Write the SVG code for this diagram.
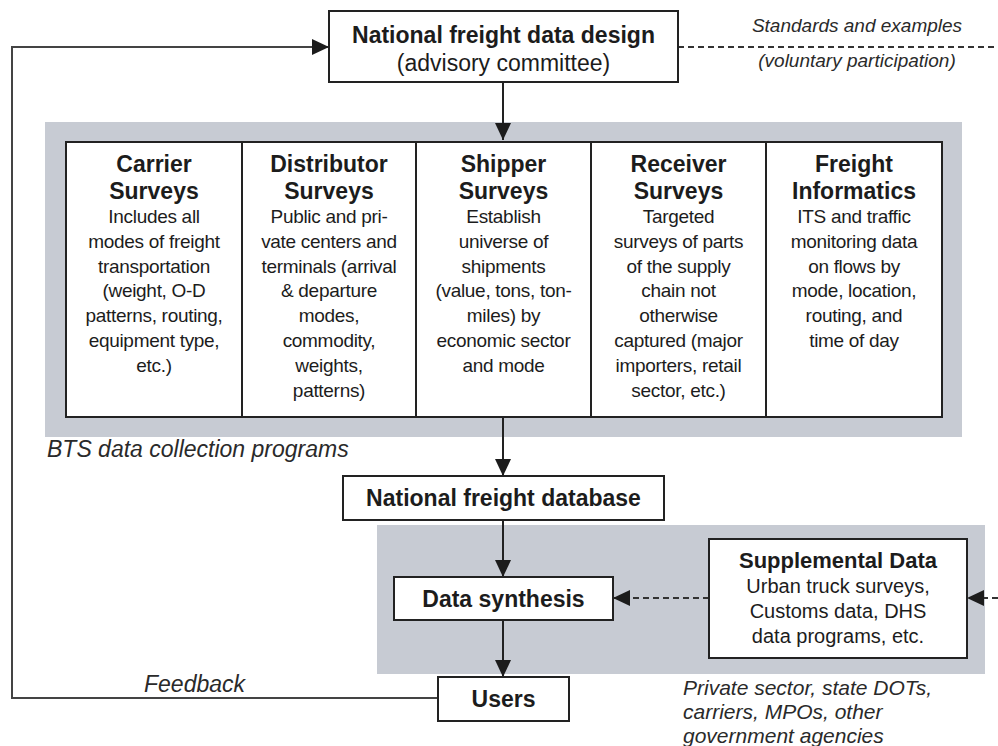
<svg xmlns="http://www.w3.org/2000/svg" width="998" height="746" viewBox="0 0 998 746">
<style>
.box{fill:#fff;stroke:#222;stroke-width:2}
.shade{fill:#c7cbd3}
.t{font-family:"Liberation Sans",Arial,sans-serif;fill:#1c1c1c;text-anchor:middle}
.b{font-weight:bold;font-size:23px}
.r{font-size:19px;letter-spacing:-0.3px}
.r2{font-size:20px}
.i{font-family:"Liberation Sans",Arial,sans-serif;font-style:italic;fill:#2a2a2a}
.ln{stroke:#222;stroke-width:2;fill:none}
.fb{stroke:#444;stroke-width:2;fill:none}
.ds{stroke:#333;stroke-width:1.8;fill:none;stroke-dasharray:6,4}
</style>
<defs>
<marker id="ah" markerUnits="userSpaceOnUse" markerWidth="18" markerHeight="18" refX="17" refY="8" orient="auto">
<path d="M0,0 L17,8 L0,16 z" fill="#1c1c1c"/>
</marker>
</defs>
<rect width="998" height="746" fill="#fff"/>

<g id="shade-bts">
<rect class="shade" x="45" y="122" width="917" height="315"/>
<text class="i" x="47" y="457" font-size="23">BTS data collection programs</text>
</g>
<g id="shade-supp">
<rect class="shade" x="377" y="525" width="608" height="149"/>
</g>

<g id="connectors">
<line class="ln" x1="503" y1="82" x2="503" y2="140" marker-end="url(#ah)"/>
<line class="ln" x1="503" y1="417" x2="503" y2="476" marker-end="url(#ah)"/>
<line class="ln" x1="503" y1="520" x2="503" y2="577" marker-end="url(#ah)"/>
<line class="ln" x1="503" y1="620" x2="503" y2="677" marker-end="url(#ah)"/>
<polyline class="fb" points="438,698 12,698 12,47 329,47" marker-end="url(#ah)"/>
<line class="ds" x1="678" y1="47" x2="998" y2="47"/>
<line class="ds" x1="709" y1="598" x2="613" y2="598" marker-end="url(#ah)"/>
<line class="ds" x1="998" y1="598" x2="967" y2="598" marker-end="url(#ah)"/>
</g>

<g id="design">
<rect class="box" x="329" y="11" width="349" height="71"/>
<text class="t b" x="503.5" y="43">National freight data design</text>
<text class="t" x="503.5" y="71" font-size="23">(advisory committee)</text>
</g>
<text class="i" x="857" y="32" font-size="19" text-anchor="middle">Standards and examples</text>
<text class="i" x="857" y="67" font-size="19" text-anchor="middle">(voluntary participation)</text>

<g id="carrier">
<rect class="box" x="66" y="142" width="176" height="275"/>
<text class="t b" x="154" y="172">Carrier</text>
<text class="t b" x="154" y="199">Surveys</text>
<text class="t r" x="154" y="223">Includes all</text>
<text class="t r" x="154" y="248">modes of freight</text>
<text class="t r" x="154" y="273">transportation</text>
<text class="t r" x="154" y="297">(weight, O-D</text>
<text class="t r" x="154" y="322">patterns, routing,</text>
<text class="t r" x="154" y="347">equipment type,</text>
<text class="t r" x="154" y="372">etc.)</text>
</g>
<g id="distributor">
<rect class="box" x="242" y="142" width="174" height="275"/>
<text class="t b" x="329" y="172">Distributor</text>
<text class="t b" x="329" y="199">Surveys</text>
<text class="t r" x="329" y="223">Public and pri-</text>
<text class="t r" x="329" y="248">vate centers and</text>
<text class="t r" x="329" y="273">terminals (arrival</text>
<text class="t r" x="329" y="297">&amp; departure</text>
<text class="t r" x="329" y="322">modes,</text>
<text class="t r" x="329" y="347">commodity,</text>
<text class="t r" x="329" y="372">weights,</text>
<text class="t r" x="329" y="397">patterns)</text>
</g>
<g id="shipper">
<rect class="box" x="416" y="142" width="175" height="275"/>
<text class="t b" x="503.5" y="172">Shipper</text>
<text class="t b" x="503.5" y="199">Surveys</text>
<text class="t r" x="503.5" y="223">Establish</text>
<text class="t r" x="503.5" y="248">universe of</text>
<text class="t r" x="503.5" y="273">shipments</text>
<text class="t r" x="503.5" y="297">(value, tons, ton-</text>
<text class="t r" x="503.5" y="322">miles) by</text>
<text class="t r" x="503.5" y="347">economic sector</text>
<text class="t r" x="503.5" y="372">and mode</text>
</g>
<g id="receiver">
<rect class="box" x="591" y="142" width="175" height="275"/>
<text class="t b" x="678.5" y="172">Receiver</text>
<text class="t b" x="678.5" y="199">Surveys</text>
<text class="t r" x="678.5" y="223">Targeted</text>
<text class="t r" x="678.5" y="248">surveys of parts</text>
<text class="t r" x="678.5" y="273">of the supply</text>
<text class="t r" x="678.5" y="297">chain not</text>
<text class="t r" x="678.5" y="322">otherwise</text>
<text class="t r" x="678.5" y="347">captured (major</text>
<text class="t r" x="678.5" y="372">importers, retail</text>
<text class="t r" x="678.5" y="397">sector, etc.)</text>
</g>
<g id="informatics">
<rect class="box" x="766" y="142" width="176" height="275"/>
<text class="t b" x="854" y="172">Freight</text>
<text class="t b" x="854" y="199">Informatics</text>
<text class="t r" x="854" y="223">ITS and traffic</text>
<text class="t r" x="854" y="248">monitoring data</text>
<text class="t r" x="854" y="273">on flows by</text>
<text class="t r" x="854" y="297">mode, location,</text>
<text class="t r" x="854" y="322">routing, and</text>
<text class="t r" x="854" y="347">time of day</text>
</g>

<g id="database">
<rect class="box" x="343" y="476" width="321" height="44"/>
<text class="t b" x="503.5" y="506">National freight database</text>
</g>
<g id="synthesis">
<rect class="box" x="394" y="577" width="219" height="43"/>
<text class="t b" x="503.5" y="607">Data synthesis</text>
</g>
<g id="users">
<rect class="box" x="438" y="677" width="131" height="44"/>
<text class="t b" x="503.5" y="707">Users</text>
</g>
<text class="i" x="144" y="692" font-size="23">Feedback</text>

<g id="supplemental">
<rect class="box" x="709" y="539" width="258" height="119"/>
<text class="t" x="838" y="568" font-size="22" font-weight="bold">Supplemental Data</text>
<text class="t r2" x="838" y="593">Urban truck surveys,</text>
<text class="t r2" x="838" y="618">Customs data, DHS</text>
<text class="t r2" x="838" y="643">data programs, etc.</text>
</g>
<g id="supp-label">
<text class="i" x="683" y="695" font-size="21">Private sector, state DOTs,</text>
<text class="i" x="683" y="719" font-size="21">carriers, MPOs, other</text>
<text class="i" x="683" y="743" font-size="21">government agencies</text>
</g>
</svg>
